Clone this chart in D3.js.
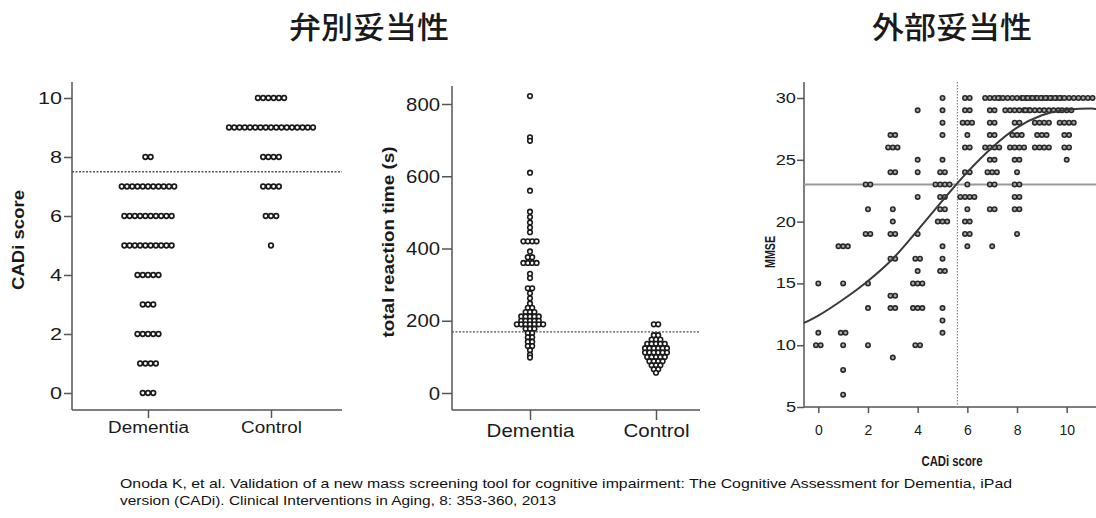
<!DOCTYPE html>
<html><head><meta charset="utf-8">
<script src="https://cdn.jsdelivr.net/npm/d3@7"></script>
<style>body{margin:0;background:#fff}svg{display:block}</style>
</head><body><svg id="c" width="1096" height="518"></svg>
<script>
// ---------- DATA ----------
const titles = ["弁別妥当性", "外部妥当性"];
const citation = [
  "Onoda K, et al. Validation of a new mass screening tool for cognitive impairment: The Cognitive Assessment for Dementia, iPad",
  "version (CADi). Clinical Interventions in Aging, 8: 353-360, 2013"
];
const groups = ["Dementia", "Control"];

// Panel 1: CADi score (value, number of subjects)
const cadiDementia = [[8,2],[7,11],[6,10],[5,10],[4,5],[3,3],[2,5],[1,4],[0,3]];
const cadiControl  = [[10,6],[9,17],[8,4],[7,4],[6,3],[5,1]];
const cadiCutoff = 7.5;
const cadiTicks = [0,2,4,6,8,10];

// Panel 2: total reaction time (s) (value, number of subjects)
const rtDementia = [[822,1],[708,1],[698,1],[610,1],[560,1],[502,1],[487,1],[472,1],[458,1],[445,1],
  [420,4],[392,1],[376,2],[360,4],[330,1],[318,1],[290,2],[276,1],[262,1],[248,1],[236,2],[224,3],
  [212,5],[200,5],[190,7],[178,3],[166,2],[154,2],[142,2],[130,2],[118,1],[106,1],[98,1]];
const rtControl = [[190,2],[160,2],[148,3],[136,5],[124,6],[112,6],[100,5],[88,4],[77,3],[66,2],[56,1]];
const rtCutoff = 169;
const rtTicks = [0,200,400,600,800];

// Panel 3: CADi score vs MMSE (cadi, mmse, count)
const scatter = [
  [0,15,1],[0,11,1],[0,10,2],
  [1,18,3],[1,15,1],[1,11,2],[1,10,1],[1,8,1],[1,6,1],
  [2,23,2],[2,21,1],[2,19,2],[2,15,1],[2,13,1],[2,10,1],
  [3,27,2],[3,26,3],[3,24,2],[3,21,1],[3,20,1],[3,19,2],[3,17,2],[3,14,2],[3,13,2],[3,9,1],
  [4,29,1],[4,25,1],[4,24,1],[4,22,1],[4,19,1],[4,17,2],[4,16,1],[4,15,3],[4,13,3],[4,10,2],
  [5,30,1],[5,29,1],[5,28,1],[5,27,1],[5,25,1],[5,24,2],[5,23,4],[5,22,2],[5,21,2],[5,20,3],[5,18,1],[5,17,1],[5,16,2],[5,13,1],[5,12,1],[5,11,1],
  [6,30,2],[6,29,2],[6,28,3],[6,27,1],[6,26,2],[6,24,2],[6,23,1],[6,22,4],[6,21,1],[6,20,2],[6,19,2],[6,18,1],
  [7,30,4],[7,29,2],[7,28,2],[7,27,2],[7,26,4],[7,25,2],[7,24,3],[7,23,2],[7,21,2],[7,18,1],
  [8,30,9],[8,29,6],[8,28,2],[8,27,3],[8,26,4],[8,25,2],[8,24,1],[8,23,2],[8,22,2],[8,21,2],[8,19,1],
  [9,30,9],[9,29,8],[9,28,4],[9,27,3],[9,26,4],
  [10,30,12],[10,29,3],[10,28,4],[10,27,2],[10,26,2],[10,25,1]
];
const fitCurve = [[-0.58,11.8],[0,12.4],[1,13.7],[2,15.2],[3,17.0],[4,19.3],[5,21.7],[6,24.0],
  [7,26.0],[8,27.6],[9,28.6],[10,29.05],[11,29.15],[11.2,29.1]];
const cutCadi = 5.6, cutMmse = 23;
const mmseTicks = [5,10,15,20,25,30];
const cadiXTicks = [0,2,4,6,8,10];

// ---------- DRAW ----------
const svg = d3.select("#c");
svg.append("rect").attr("width",1096).attr("height",518).attr("fill","#fff");
const FONT = "'Liberation Sans', Arial, sans-serif";
const INK = "#1a1a1a", AX = "#555";

function rowDots(g, rows, cx, y, spacing, r, fill, stroke, sw) {
  rows.forEach(([v, n]) => {
    for (let i = 0; i < n; i++) {
      g.append("circle").attr("cx", cx + (i - (n - 1) / 2) * spacing).attr("cy", y(v))
        .attr("r", r).attr("fill", fill).attr("stroke", stroke).attr("stroke-width", sw);
    }
  });
}
function stretch(sel, k) {
  sel.each(function () {
    const w = this.getComputedTextLength();
    d3.select(this).attr("textLength", w * k).attr("lengthAdjust", "spacingAndGlyphs");
  });
}
function styleAxis(g, size, k, weight) {
  g.select(".domain").remove();
  g.selectAll("line").attr("stroke", AX).attr("stroke-width", 1.5);
  const t = g.selectAll("text").attr("fill", INK).attr("font-size", size).attr("font-family", FONT)
    .attr("font-weight", weight || "normal");
  stretch(t, k);
}

// Titles
titles.forEach((t, i) => {
  svg.append("text").attr("x", i === 0 ? 369 : 952).attr("y", 38).attr("text-anchor","middle")
    .attr("font-family","'Noto Sans CJK JP', sans-serif").attr("font-weight",500).attr("font-size",30)
    .attr("fill", INK).attr("textLength",160).attr("lengthAdjust","spacingAndGlyphs").text(t);
});

// ---- Panel 1 ----
{
  const g = svg.append("g");
  const x = d3.scalePoint().domain(groups).range([148, 271]);
  const y = d3.scaleLinear().domain([0,10]).range([393, 98]);
  g.append("line").attr("x1",72).attr("x2",72).attr("y1",82).attr("y2",410).attr("stroke",AX).attr("stroke-width",1.5);
  g.append("line").attr("x1",72).attr("x2",342).attr("y1",410).attr("y2",410).attr("stroke",AX).attr("stroke-width",1.5);
  const ya = g.append("g").attr("transform","translate(72,0)").call(d3.axisLeft(y).tickValues(cadiTicks).tickSize(8).tickPadding(2));
  styleAxis(ya, 16, 1.35);
  const xa = g.append("g").attr("transform","translate(0,410)").call(d3.axisBottom(x).tickSize(8).tickPadding(4));
  styleAxis(xa, 16, 1.18);
  g.append("line").attr("x1",72).attr("x2",342).attr("y1",y(cadiCutoff)).attr("y2",y(cadiCutoff))
    .attr("stroke","#555").attr("stroke-width",1.3).attr("stroke-dasharray","2,1.5");
  rowDots(g, cadiDementia, x("Dementia"), y, 5.25, 2.3, "#fff", "#1a1a1a", 1.7);
  rowDots(g, cadiControl, x("Control"), y, 5.25, 2.3, "#fff", "#1a1a1a", 1.7);
  g.append("text").attr("transform","translate(24,240) rotate(-90)").attr("text-anchor","middle")
    .attr("font-family",FONT).attr("font-weight","bold").attr("font-size",17).attr("fill",INK)
    .attr("textLength",100).attr("lengthAdjust","spacingAndGlyphs").text("CADi score");
}

// ---- Panel 2 ----
{
  const g = svg.append("g");
  const x = d3.scalePoint().domain(groups).range([530, 656]);
  const y = d3.scaleLinear().domain([0,800]).range([393, 104]);
  g.append("line").attr("x1",452).attr("x2",452).attr("y1",86).attr("y2",410).attr("stroke",AX).attr("stroke-width",1.5);
  g.append("line").attr("x1",452).attr("x2",700).attr("y1",410).attr("y2",410).attr("stroke",AX).attr("stroke-width",1.5);
  const ya = g.append("g").attr("transform","translate(452,0)").call(d3.axisLeft(y).tickValues(rtTicks).tickSize(10).tickPadding(2));
  styleAxis(ya, 19, 1.07);
  const xa = g.append("g").attr("transform","translate(0,410)").call(d3.axisBottom(x).tickSize(10).tickPadding(4));
  styleAxis(xa, 19, 1.08);
  g.append("line").attr("x1",452).attr("x2",700).attr("y1",y(rtCutoff)).attr("y2",y(rtCutoff))
    .attr("stroke","#555").attr("stroke-width",1.3).attr("stroke-dasharray","2,1.5");
  rowDots(g, rtDementia, x("Dementia"), y, 4.4, 2.3, "#fff", "#1a1a1a", 1.6);
  rowDots(g, rtControl, x("Control"), y, 4.4, 2.3, "#fff", "#1a1a1a", 1.6);
  g.append("text").attr("transform","translate(394,242) rotate(-90)").attr("text-anchor","middle")
    .attr("font-family",FONT).attr("font-weight","bold").attr("font-size",17).attr("fill",INK)
    .attr("textLength",191).attr("lengthAdjust","spacingAndGlyphs").text("total reaction time (s)");
}

// ---- Panel 3 ----
{
  const g = svg.append("g");
  const x = d3.scaleLinear().domain([0,10]).range([818.3, 1066.7]);
  const y = d3.scaleLinear().domain([5,30]).range([407, 98]);
  g.append("line").attr("x1",804).attr("x2",804).attr("y1",82).attr("y2",407).attr("stroke",AX).attr("stroke-width",1.5);
  g.append("line").attr("x1",804).attr("x2",1096).attr("y1",407).attr("y2",407).attr("stroke",AX).attr("stroke-width",1.5);
  const ya = g.append("g").attr("transform","translate(804,0)").call(d3.axisLeft(y).tickValues(mmseTicks).tickSize(7).tickPadding(1));
  styleAxis(ya, 14, 1.3);
  const xa = g.append("g").attr("transform","translate(0,407)").call(d3.axisBottom(x).tickValues(cadiXTicks).tickSize(6).tickPadding(12));
  styleAxis(xa, 14, 1.0);
  g.append("line").attr("x1",x(cutCadi)).attr("x2",x(cutCadi)).attr("y1",82).attr("y2",407)
    .attr("stroke","#888").attr("stroke-width",1.2).attr("stroke-dasharray","1.5,1.5");
  g.append("line").attr("x1",804).attr("x2",1096).attr("y1",y(cutMmse)).attr("y2",y(cutMmse))
    .attr("stroke","#999").attr("stroke-width",2);
  scatter.forEach(([cx, m, n]) => {
    for (let i = 0; i < n; i++) {
      g.append("circle").attr("cx", x(cx) + (i - (n - 1) / 2) * 4.7).attr("cy", y(m))
        .attr("r", 2.2).attr("fill", "#aaa").attr("stroke", "#2a2a2a").attr("stroke-width", 1.6);
    }
  });
  g.append("path").datum(fitCurve)
    .attr("d", d3.line().x(d => x(d[0])).y(d => y(d[1])).curve(d3.curveMonotoneX))
    .attr("fill","none").attr("stroke","#3a3a3a").attr("stroke-width",2);
  g.append("text").attr("transform","translate(775,252) rotate(-90)").attr("text-anchor","middle")
    .attr("font-family",FONT).attr("font-weight","bold").attr("font-size",14).attr("fill",INK)
    .attr("textLength",32).attr("lengthAdjust","spacingAndGlyphs").text("MMSE");
  g.append("text").attr("x",952).attr("y",466).attr("text-anchor","middle")
    .attr("font-family",FONT).attr("font-weight","bold").attr("font-size",14).attr("fill",INK)
    .attr("textLength",61).attr("lengthAdjust","spacingAndGlyphs").text("CADi score");
}

// Citation
svg.append("text").attr("x",120).attr("y",488).attr("font-family",FONT).attr("font-size",13.5).attr("fill","#111")
  .attr("textLength",892).attr("lengthAdjust","spacingAndGlyphs").text(citation[0]);
svg.append("text").attr("x",120).attr("y",505).attr("font-family",FONT).attr("font-size",13.5).attr("fill","#111")
  .attr("textLength",436).attr("lengthAdjust","spacingAndGlyphs").text(citation[1]);
</script></body></html>
